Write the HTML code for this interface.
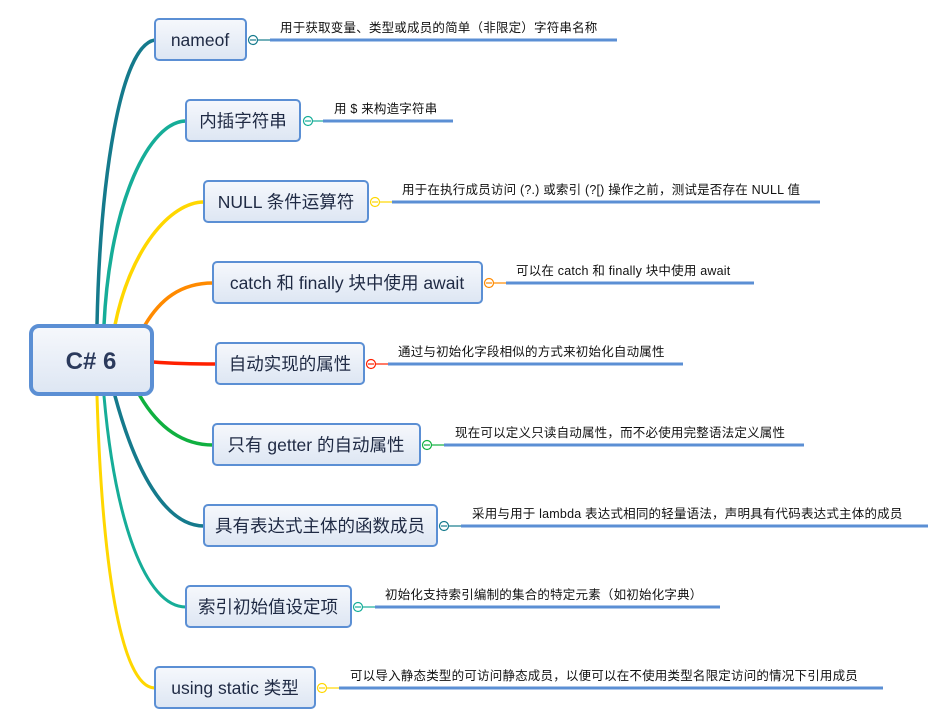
<!DOCTYPE html>
<html><head><meta charset="utf-8"><style>
body{margin:0;background:#fff;width:950px;height:723px;overflow:hidden}
svg{display:block}
.n{font-family:"Liberation Sans","Noto Sans CJK SC",sans-serif;font-size:17.5px;fill:#1f2a44}
.t{font-family:"Liberation Sans","Noto Sans CJK SC",sans-serif;font-size:12.5px;fill:#111;letter-spacing:0.2px}
</style></head><body>
<svg width="950" height="723" viewBox="0 0 950 723">
<defs><linearGradient id="g" x1="0" y1="0" x2="0" y2="1"><stop offset="0" stop-color="#f6f8fc"/><stop offset="1" stop-color="#dde6f3"/></linearGradient></defs>
<g fill="none" stroke-linecap="round">
<path d="M97 325 C100 180 120 45 155 40" stroke="#157a8c" stroke-width="3.5"/>
<path d="M104 325 C110 200 150 121 186 121" stroke="#16ad98" stroke-width="3.5"/>
<path d="M115 325 C130 250 170 202 204 202" stroke="#ffd700" stroke-width="3.5"/>
<path d="M145 325 C160 300 180 283 213 283" stroke="#ff8a00" stroke-width="3.5"/>
<path d="M153 362 C180 364 200 364 216 364" stroke="#ff2000" stroke-width="3.5"/>
<path d="M140 396 C160 430 185 445 213 445" stroke="#10b040" stroke-width="3.5"/>
<path d="M115 396 C135 470 165 526 204 526" stroke="#157a8c" stroke-width="3.5"/>
<path d="M104 396 C115 520 145 607 186 607" stroke="#16ad98" stroke-width="3"/>
<path d="M97 396 C102 560 120 688 155 688" stroke="#ffd700" stroke-width="3"/>
</g>
<rect x="31" y="326" width="121" height="68" rx="8" fill="url(#g)" stroke="#5b8fd4" stroke-width="4"/>
<text x="91" y="369" text-anchor="middle" font-family="Liberation Sans,sans-serif" font-size="24" font-weight="bold" fill="#2b3a5c">C# 6</text>
<g stroke="#5b8fd4" stroke-width="2" fill="url(#g)">
<rect x="155" y="19" width="91" height="41" rx="4"/>
<rect x="186" y="100" width="114" height="41" rx="4"/>
<rect x="204" y="181" width="164" height="41" rx="4"/>
<rect x="213" y="262" width="269" height="41" rx="4"/>
<rect x="216" y="343" width="148" height="41" rx="4"/>
<rect x="213" y="424" width="207" height="41" rx="4"/>
<rect x="204" y="505" width="233" height="41" rx="4"/>
<rect x="186" y="586" width="165" height="41" rx="4"/>
<rect x="155" y="667" width="160" height="41" rx="4"/>
</g>
<g class="n" text-anchor="middle">
<text x="200" y="46">nameof</text>
<text x="243" y="127">内插字符串</text>
<text x="286" y="208">NULL 条件运算符</text>
<text x="347" y="289">catch 和 finally 块中使用 await</text>
<text x="290" y="370">自动实现的属性</text>
<text x="316" y="451">只有 getter 的自动属性</text>
<text x="320" y="532">具有表达式主体的函数成员</text>
<text x="268" y="613">索引初始值设定项</text>
<text x="235" y="694">using static 类型</text>
</g>
<g fill="#fff" stroke-width="1.2">
<g stroke="#157a8c"><line x1="258" y1="40" x2="270" y2="40"/><circle cx="253" cy="40" r="4.5"/><line x1="250" y1="40" x2="256" y2="40"/></g>
<g stroke="#16ad98"><line x1="313" y1="121" x2="323" y2="121"/><circle cx="308" cy="121" r="4.5"/><line x1="305" y1="121" x2="311" y2="121"/></g>
<g stroke="#ffd700"><line x1="380" y1="202" x2="392" y2="202"/><circle cx="375" cy="202" r="4.5"/><line x1="372" y1="202" x2="378" y2="202"/></g>
<g stroke="#ff8a00"><line x1="494" y1="283" x2="506" y2="283"/><circle cx="489" cy="283" r="4.5"/><line x1="486" y1="283" x2="492" y2="283"/></g>
<g stroke="#ff2000"><line x1="376" y1="364" x2="388" y2="364"/><circle cx="371" cy="364" r="4.5"/><line x1="368" y1="364" x2="374" y2="364"/></g>
<g stroke="#10b040"><line x1="432" y1="445" x2="444" y2="445"/><circle cx="427" cy="445" r="4.5"/><line x1="424" y1="445" x2="430" y2="445"/></g>
<g stroke="#157a8c"><line x1="449" y1="526" x2="461" y2="526"/><circle cx="444" cy="526" r="4.5"/><line x1="441" y1="526" x2="447" y2="526"/></g>
<g stroke="#16ad98"><line x1="363" y1="607" x2="375" y2="607"/><circle cx="358" cy="607" r="4.5"/><line x1="355" y1="607" x2="361" y2="607"/></g>
<g stroke="#ffd700"><line x1="327" y1="688" x2="339" y2="688"/><circle cx="322" cy="688" r="4.5"/><line x1="319" y1="688" x2="325" y2="688"/></g>
</g>
<g stroke="#5b8fd4" stroke-width="3">
<line x1="270" y1="40" x2="617" y2="40"/>
<line x1="323" y1="121" x2="453" y2="121"/>
<line x1="392" y1="202" x2="820" y2="202"/>
<line x1="506" y1="283" x2="754" y2="283"/>
<line x1="388" y1="364" x2="683" y2="364"/>
<line x1="444" y1="445" x2="804" y2="445"/>
<line x1="461" y1="526" x2="928" y2="526"/>
<line x1="375" y1="607" x2="720" y2="607"/>
<line x1="339" y1="688" x2="883" y2="688"/>
</g>
<g class="t">
<text x="280" y="32">用于获取变量、类型或成员的简单（非限定）字符串名称</text>
<text x="334" y="113">用 $ 来构造字符串</text>
<text x="402" y="194">用于在执行成员访问 (?.) 或索引 (?[) 操作之前，测试是否存在 NULL 值</text>
<text x="516" y="275">可以在 catch 和 finally 块中使用 await</text>
<text x="398" y="356">通过与初始化字段相似的方式来初始化自动属性</text>
<text x="455" y="437">现在可以定义只读自动属性，而不必使用完整语法定义属性</text>
<text x="472" y="518">采用与用于 lambda 表达式相同的轻量语法，声明具有代码表达式主体的成员</text>
<text x="385" y="599">初始化支持索引编制的集合的特定元素（如初始化字典）</text>
<text x="350" y="680">可以导入静态类型的可访问静态成员，以便可以在不使用类型名限定访问的情况下引用成员</text>
</g>
</svg>
</body></html>
